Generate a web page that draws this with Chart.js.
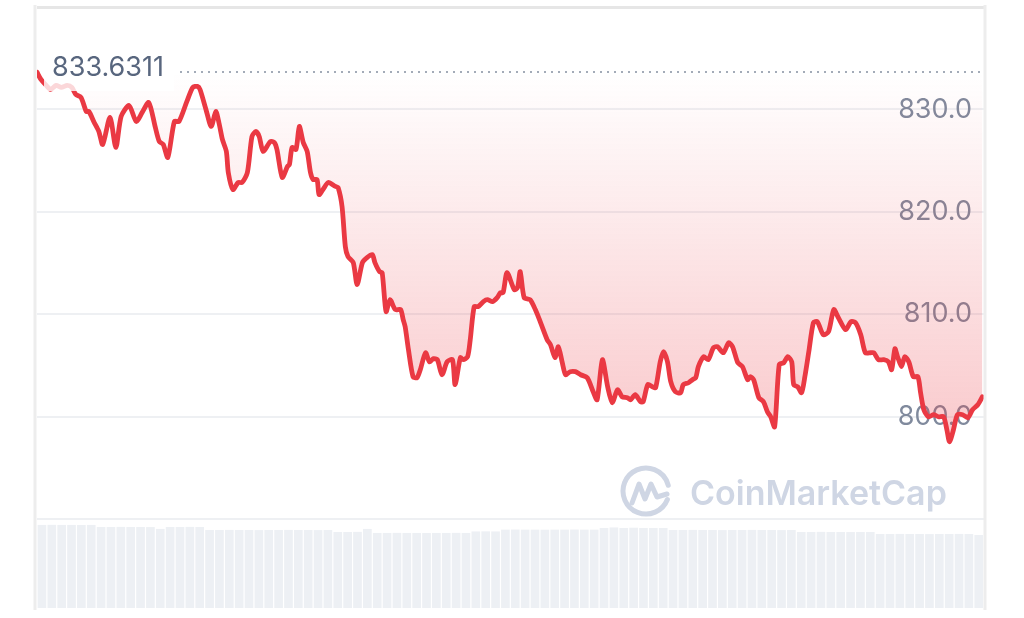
<!DOCTYPE html>
<html>
<head>
<meta charset="utf-8">
<script src="https://cdn.jsdelivr.net/npm/chart.js@4/dist/chart.umd.min.js"></script>
<style>
  html, body { margin: 0; padding: 0; background: #fff; }
  #wrap { width: 1024px; height: 618px; position: relative; }
</style>
</head>
<body>
<div id="wrap"><canvas id="chart"></canvas></div>
<script>
// ── Data ─────────────────────────────────────────────────────
const openPrice = 833.6311;

// minutes since start of the 24h window
const minutes = [
  0, 6, 14, 21, 29, 37, 46, 53, 59, 67, 75, 79, 87, 94, 100, 111, 120, 128, 140, 151,
  160, 170, 180, 186, 192, 199, 209, 216, 228, 237, 244, 248, 257, 265, 272, 277, 282, 288, 291, 298,
  306, 312, 320, 327, 333, 338, 344, 355, 361, 365, 373, 381, 384, 388, 394, 399, 405, 411, 416, 420,
  426, 429, 435, 443, 454, 458, 464, 469, 473, 481, 487, 495, 502, 510, 514, 521, 525, 531, 537, 545,
  553, 557, 560, 565, 572, 578, 583, 591, 597, 603, 609, 616, 624, 632, 636, 644, 648, 655, 659, 665,
  671, 679, 685, 693, 700, 705, 709, 715, 726, 731, 735, 741, 750, 758, 766, 776, 781, 788, 793, 799,
  804, 811, 819, 827, 837, 846, 852, 860, 868, 875, 883, 890, 898, 903, 910, 918, 922, 929, 936, 941,
  948, 953, 959, 964, 971, 979, 983, 991, 997, 1002, 1006, 1014, 1021, 1029, 1035, 1044, 1052, 1058, 1066, 1073,
  1081, 1085, 1090, 1098, 1105, 1111, 1116, 1122, 1129, 1136, 1142, 1148, 1151, 1157, 1163, 1168, 1174, 1181, 1187, 1196,
  1204, 1212, 1219, 1230, 1238, 1245, 1253, 1260, 1268, 1273, 1280, 1288, 1295, 1300, 1305, 1309, 1315, 1320, 1326, 1333,
  1340, 1344, 1349, 1356, 1364, 1371, 1379, 1384, 1388, 1394, 1400, 1408, 1416, 1423, 1431, 1438
];

const prices = [
  833.63, 832.93, 832.35, 831.95, 832.35, 832.15, 832.35, 832.15, 831.47, 831.17, 829.80, 829.80, 828.73, 827.85, 826.58, 829.22, 826.29, 829.32, 830.39, 828.83,
  829.71, 830.68, 828.24, 826.87, 826.58, 825.31, 828.83, 828.83, 830.78, 832.15, 832.25, 831.95, 830.00, 828.34, 829.80, 828.63, 827.07, 825.90, 823.84, 822.18,
  822.87, 822.87, 823.84, 827.36, 827.85, 827.36, 825.90, 826.87, 826.78, 826.09, 823.36, 824.43, 824.63, 826.29, 826.09, 828.34, 826.78, 825.90, 823.84, 823.16,
  823.16, 821.69, 822.18, 822.87, 822.48, 822.38, 820.52, 816.61, 815.64, 815.05, 812.90, 815.05, 815.54, 815.83, 815.05, 814.17, 814.07, 810.26, 811.43, 810.46,
  810.46, 809.48, 808.79, 806.55, 803.91, 803.81, 804.59, 806.25, 805.37, 805.67, 805.57, 804.10, 805.37, 805.57, 803.13, 805.77, 805.57, 805.86, 807.52, 810.75,
  810.75, 811.24, 811.43, 811.24, 811.63, 812.12, 812.12, 814.07, 812.41, 812.61, 814.17, 811.63, 811.43, 810.46, 809.19, 807.52, 807.04, 805.77, 806.84, 805.28,
  804.10, 804.40, 804.40, 804.10, 803.81, 802.44, 801.66, 805.57, 802.93, 801.37, 802.64, 801.95, 801.86, 801.66, 802.15, 801.47, 801.47, 803.13, 802.93, 802.83,
  805.37, 806.35, 805.37, 803.42, 802.44, 802.34, 803.13, 803.32, 803.62, 803.81, 804.89, 805.86, 805.57, 806.74, 806.84, 806.25, 807.23, 806.84, 805.28, 804.89,
  803.62, 803.91, 803.62, 801.86, 801.47, 800.49, 800.00, 799.02, 805.08, 805.28, 805.86, 805.37, 803.13, 802.93, 802.35, 803.91, 806.35, 809.19, 809.28, 808.01,
  808.31, 810.46, 809.67, 808.50, 809.28, 809.19, 808.01, 806.25, 806.25, 806.25, 805.57, 805.57, 805.37, 804.59, 806.64, 805.86, 804.89, 805.86, 805.37, 803.91,
  803.91, 802.35, 800.68, 800.00, 800.20, 800.00, 800.00, 798.73, 797.56, 798.73, 800.20, 800.20, 799.90, 800.68, 801.17, 801.95
];

// 24h rolling volume, one bar per 15 minutes (millions)
const volume = [
  9.33, 9.34, 9.33, 9.33, 9.32, 9.33, 9.10, 9.10, 9.11, 9.10, 9.10, 9.09,
  8.88, 9.10, 9.10, 9.11, 9.10,
  8.76, 8.76, 8.77, 8.76, 8.76, 8.75, 8.76, 8.76, 8.77, 8.76, 8.76, 8.75, 8.76,
  8.54, 8.54, 8.55, 8.88,
  8.43, 8.43, 8.44, 8.43, 8.43, 8.42, 8.43, 8.43, 8.44, 8.43,
  8.60, 8.61, 8.60,
  8.80, 8.81, 8.80, 8.80, 8.79, 8.80, 8.80, 8.81, 8.80, 8.80,
  8.99, 9.05, 8.99, 9.02, 8.99, 8.98, 8.99,
  8.76, 8.76, 8.77, 8.76, 8.76, 8.75, 8.76, 8.76, 8.77, 8.76, 8.76, 8.75, 8.76,
  8.54, 8.54, 8.55, 8.54, 8.54, 8.53, 8.54, 8.54,
  8.31, 8.31, 8.32, 8.31, 8.31, 8.30, 8.31, 8.31, 8.32, 8.31, 8.20
];

const shownTicks = [800, 810, 820, 830];

// ── Colours ──────────────────────────────────────────────────
const RED   = '#ea3943';
const GREEN = '#16c784';
const GRID  = '#eef0f3';
const MARK  = '#cfd6e4';

// ── Plugin: watermark, frame, open-price line and label ──────
const decor = {
  id: 'decor',
  beforeDatasetsDraw(chart) {
    const ctx = chart.ctx;
    ctx.save();
    // CoinMarketCap watermark
    const cx = 646, cy = 491, r = 23;
    ctx.strokeStyle = MARK;
    ctx.lineWidth = 5;
    ctx.lineCap = 'round';
    ctx.lineJoin = 'round';
    ctx.beginPath();
    ctx.arc(cx, cy, r, 0.12 * Math.PI, 1.92 * Math.PI, false);
    ctx.stroke();
    ctx.beginPath();
    ctx.moveTo(cx - 14, cy + 12);
    ctx.lineTo(cx - 7, cy - 7);
    ctx.lineTo(cx - 1, cy + 8);
    ctx.lineTo(cx + 5, cy - 7);
    ctx.lineTo(cx + 11, cy + 6);
    ctx.lineTo(cx + 21, cy + 3);
    ctx.stroke();
    ctx.fillStyle = MARK;
    ctx.font = '600 34px Inter';
    ctx.textBaseline = 'alphabetic';
    ctx.fillText('CoinMarketCap', 690, 505);
    ctx.restore();
  },
  afterDatasetsDraw(chart) {
    const ctx = chart.ctx;
    const area = chart.chartArea;
    const yb = Math.round(chart.scales.y.getPixelForValue(openPrice));
    ctx.save();
    // dotted open-price line
    ctx.strokeStyle = '#a3abb8';
    ctx.lineWidth = 2;
    ctx.setLineDash([2, 5]);
    ctx.beginPath();
    ctx.moveTo(180, yb);
    ctx.lineTo(area.right, yb);
    ctx.stroke();
    ctx.setLineDash([]);
    // label box softens the line underneath
    ctx.fillStyle = 'rgba(255,255,255,0.8)';
    ctx.fillRect(44, yb - 22, 130, 41);
    ctx.fillStyle = '#58667e';
    ctx.font = '27px Inter';
    ctx.textBaseline = 'alphabetic';
    ctx.fillText(openPrice.toFixed(4), 52, yb + 4);
    // frame
    ctx.strokeStyle = '#ededed';
    ctx.lineWidth = 3;
    ctx.beginPath();
    ctx.moveTo(35, 5);
    ctx.lineTo(35, 610);
    ctx.moveTo(985, 5);
    ctx.lineTo(985, 610);
    ctx.stroke();
    ctx.restore();
  }
};

// ── Chart ────────────────────────────────────────────────────
const pricePoints  = minutes.map((m, i) => ({ x: m, y: prices[i] }));
const volumePoints = volume.map((v, i) => ({ x: i * 15 + 7.5, y: v }));

new Chart(document.getElementById('chart'), {
  data: {
    datasets: [
      {
        type: 'line',
        data: pricePoints,
        yAxisID: 'y',
        borderColor: RED,
        borderWidth: 4.8,
        borderJoinStyle: 'round',
        borderCapStyle: 'round',
        pointRadius: 0,
        tension: 0.25,
        segment: {
          borderColor: c => (c.p0.parsed.y >= openPrice ? GREEN : undefined)
        },
        fill: { target: { value: openPrice } },
        backgroundColor: c => {
          const area = c.chart.chartArea;
          if (!area) return 'rgba(234,57,67,0.1)';
          const ys = c.chart.scales.y;
          const g = c.chart.ctx.createLinearGradient(0, ys.getPixelForValue(openPrice), 0, ys.getPixelForValue(798));
          g.addColorStop(0, 'rgba(234,57,67,0.0)');
          g.addColorStop(1, 'rgba(234,57,67,0.27)');
          return g;
        },
        order: 1
      },
      {
        type: 'bar',
        data: volumePoints,
        yAxisID: 'yv',
        backgroundColor: '#edf0f4',
        borderWidth: 0,
        barPercentage: 0.88,
        categoryPercentage: 1,
        order: 2
      }
    ]
  },
  options: {
    responsive: true,
    maintainAspectRatio: false,
    animation: false,
    layout: { autoPadding: false, padding: { left: 37, right: 39, top: 7, bottom: 10 } },
    plugins: {
      legend: { display: false },
      tooltip: { enabled: false }
    },
    scales: {
      x: {
        type: 'linear',
        offset: false,
        min: 0,
        max: 1442,
        display: false
      },
      y: {
        position: 'right',
        min: 781.33,
        max: 840,
        border: { display: false },
        afterFit: s => { s.width = 0; },
        grid: {
          drawTicks: false,
          color: c => (c.tick && c.tick.value === 840 ? '#e6e6e6' : GRID),
          lineWidth: c => (c.tick && c.tick.value === 840 ? 3 : 2)
        },
        ticks: {
          stepSize: 10,
          includeBounds: false,
          mirror: true,
          padding: -13,
          color: '#808a9d',
          font: { family: 'Inter', size: 27 },
          callback: v => (shownTicks.includes(v) ? v.toFixed(1) : '')
        }
      },
      yv: {
        display: false,
        min: 0,
        max: 67.5
      }
    }
  },
  plugins: [decor]
});
</script>
</body>
</html>
